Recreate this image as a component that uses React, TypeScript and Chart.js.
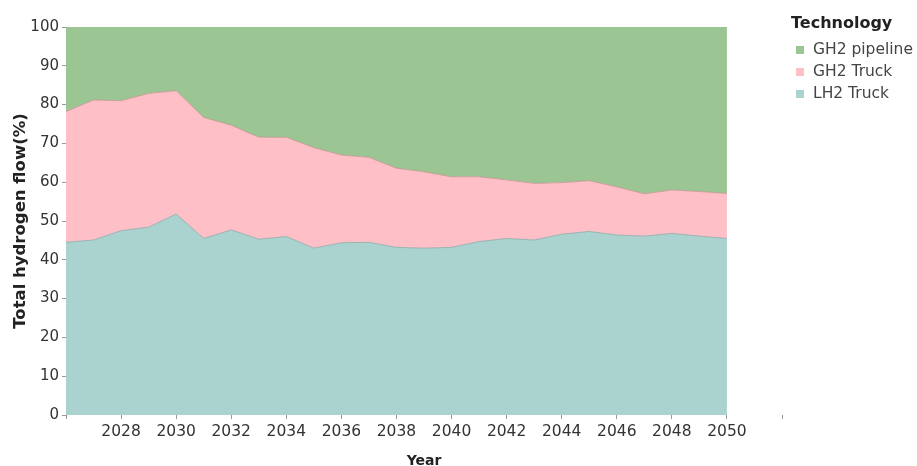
import React, { useEffect, useRef } from "react";
import { Chart, registerables } from "chart.js";

Chart.register(...registerables);

const years = [2026, 2027, 2028, 2029, 2030, 2031, 2032, 2033, 2034, 2035, 2036, 2037, 2038, 2039, 2040, 2041, 2042, 2043, 2044, 2045, 2046, 2047, 2048, 2049, 2050];
const lh2Truck = [44.5, 45.1, 47.5, 48.4, 51.8, 45.5, 47.7, 45.3, 46.0, 43.0, 44.4, 44.5, 43.2, 43.0, 43.2, 44.7, 45.5, 45.1, 46.6, 47.3, 46.4, 46.1, 46.8, 46.1, 45.5];
const gh2Truck = [33.7, 36.1, 33.5, 34.5, 31.8, 31.2, 27.0, 26.3, 25.6, 25.9, 22.6, 21.9, 20.4, 19.7, 18.2, 16.7, 15.1, 14.6, 13.3, 13.1, 12.4, 10.9, 11.2, 11.5, 11.6];
const gh2Pipeline = [21.8, 18.8, 19.0, 17.1, 16.4, 23.3, 25.3, 28.4, 28.4, 31.1, 33.0, 33.6, 36.4, 37.3, 38.6, 38.6, 39.4, 40.3, 40.1, 39.6, 41.2, 43.0, 42.0, 42.4, 42.9];
const yTicks = [0, 10, 20, 30, 40, 50, 60, 70, 80, 90, 100];
const xMin = 2026;
const xMax = 2052;

const FONT = "'DejaVu Sans', sans-serif";
const GREEN = "#9bc592";
const PINK = "#ffbfc7";
const TEAL = "#aad3cf";

const legendItems = [
  { label: "GH2 pipeline", color: GREEN },
  { label: "GH2 Truck", color: PINK },
  { label: "LH2 Truck", color: TEAL },
];

export default function App() {
  const ref = useRef<HTMLCanvasElement | null>(null);
  useEffect(() => {
    const canvas = ref.current;
    if (!canvas) return;
    const toPts = (arr: number[]) => years.map((x, i) => ({ x, y: arr[i] }));
    const chart = new Chart(canvas, {
      type: "line",
      data: {
        datasets: [
          {
            label: "LH2 Truck",
            data: toPts(lh2Truck),
            backgroundColor: TEAL,
            borderColor: "rgba(140,170,168,0.8)",
            borderWidth: 1,
            fill: "origin",
            pointRadius: 0,
            tension: 0,
          },
          {
            label: "GH2 Truck",
            data: toPts(gh2Truck),
            backgroundColor: PINK,
            borderColor: "rgba(190,150,140,0.8)",
            borderWidth: 1,
            fill: "-1",
            pointRadius: 0,
            tension: 0,
          },
          {
            label: "GH2 pipeline",
            data: toPts(gh2Pipeline),
            backgroundColor: GREEN,
            borderColor: GREEN,
            borderWidth: 0,
            fill: "-1",
            pointRadius: 0,
            tension: 0,
          },
        ],
      },
      options: {
        animation: false,
        responsive: false,
        maintainAspectRatio: false,
        layout: { padding: { top: 27, right: 135, left: 0, bottom: 0 } },
        plugins: {
          legend: { display: false },
          tooltip: { enabled: false },
        },
        scales: {
          x: {
            type: "linear",
            min: xMin,
            max: xMax,
            z: 1,
            afterFit: (s: any) => {
              s.height = 51;
            },
            afterBuildTicks: (s: any) => {
              const t = [];
              for (let v = xMin; v <= xMax; v += 2) t.push({ value: v });
              s.ticks = t;
            },
            ticks: {
              autoSkip: false,
              maxRotation: 0,
              padding: 4,
              color: "#333",
              font: { family: FONT, size: 15.5 },
              callback: (v: any) => (v === xMin || v === xMax ? "" : String(v)),
            },
            grid: {
              drawOnChartArea: true,
              color: (c: any) =>
                c.tick && (c.tick.value === xMin || c.tick.value === xMax) ? "rgba(0,0,0,0)" : "rgba(0,0,0,0.045)",
              tickColor: "#999",
              tickLength: 4,
            },
            border: { display: false },
            title: {
              display: true,
              text: "Year",
              color: "#222",
              font: { family: FONT, size: 14, weight: "bold", lineHeight: 0.7 },
              padding: { top: 0, bottom: 0 },
            },
          },
          y: {
            stacked: true,
            min: 0,
            max: 100,
            afterFit: (s: any) => {
              s.width = 66;
            },
            afterBuildTicks: (s: any) => {
              s.ticks = yTicks.map((v) => ({ value: v }));
            },
            ticks: {
              padding: 3,
              color: "#333",
              font: { family: FONT, size: 15 },
            },
            grid: {
              drawOnChartArea: false,
              tickColor: "#999",
              tickLength: 4,
            },
            border: { display: false },
            title: {
              display: true,
              text: "Total hydrogen flow(%)",
              color: "#222",
              font: { family: FONT, size: 16.5, weight: "bold", lineHeight: 1.2 },
              padding: { top: 11, bottom: 0 },
            },
          },
        },
      },
    });
    return () => chart.destroy();
  }, []);

  return (
    <div style={{ position: "fixed", left: 0, top: 0, width: 917, height: 466, background: "#fff" }}>
      <canvas ref={ref} width={917} height={466} style={{ display: "block", width: 917, height: 466 }} />
      <div style={{ position: "absolute", left: 791, top: 13, fontFamily: FONT }}>
        <div style={{ fontSize: 16, fontWeight: "bold", lineHeight: "20px", color: "#222" }}>Technology</div>
        <div style={{ marginTop: 5 }}>
          {legendItems.map((it) => (
            <div key={it.label} style={{ display: "flex", alignItems: "center", height: 22, fontSize: 15.5, color: "#444", whiteSpace: "nowrap" }}>
              <span style={{ display: "inline-block", width: 8, height: 8, background: it.color, marginLeft: 5, marginRight: 9, marginTop: 2 }} />
              <span>{it.label}</span>
            </div>
          ))}
        </div>
      </div>
    </div>
  );
}
